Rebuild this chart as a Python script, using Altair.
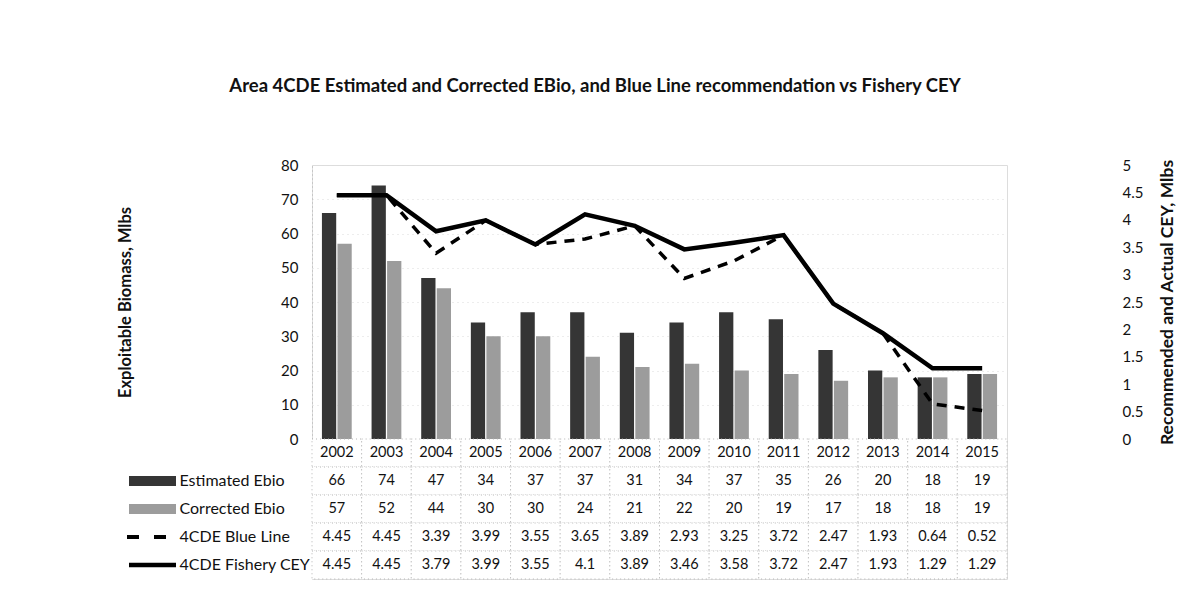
import altair as alt
import pandas as pd

years = ["2002", "2003", "2004", "2005", "2006", "2007", "2008",
         "2009", "2010", "2011", "2012", "2013", "2014", "2015"]
est_ebio = [66, 74, 47, 34, 37, 37, 31, 34, 37, 35, 26, 20, 18, 19]
cor_ebio = [57, 52, 44, 30, 30, 24, 21, 22, 20, 19, 17, 18, 18, 19]
blue_line = [4.45, 4.45, 3.39, 3.99, 3.55, 3.65, 3.89, 2.93, 3.25, 3.72, 2.47, 1.93, 0.64, 0.52]
fishery_cey = [4.45, 4.45, 3.79, 3.99, 3.55, 4.1, 3.89, 3.46, 3.58, 3.72, 2.47, 1.93, 1.29, 1.29]
left_ticks = [0, 10, 20, 30, 40, 50, 60, 70, 80]
right_ticks = [0, 0.5, 1, 1.5, 2, 2.5, 3, 3.5, 4, 4.5, 5]

S_EST = "Estimated Ebio"
S_COR = "Corrected Ebio"
S_BLUE = "4CDE Blue Line"
S_CEY = "4CDE Fishery CEY"
HEADER = "Year"
rows = [HEADER, S_EST, S_COR, S_BLUE, S_CEY]

FONT = "Lato"
W = 695
H = 274
ROW = 28
DARK = "#353535"
LIGHT = "#9c9c9c"

bars_df = pd.DataFrame({
    "year": years * 2,
    "series": [S_EST] * len(years) + [S_COR] * len(years),
    "value": est_ebio + cor_ebio,
})
blue_df = pd.DataFrame({"year": years, "series": S_BLUE, "value": blue_line})
cey_df = pd.DataFrame({"year": years, "series": S_CEY, "value": fishery_cey})

table_rows = []
for i, y in enumerate(years):
    table_rows.append({"year": y, "row": HEADER, "label": y})
    table_rows.append({"year": y, "row": S_EST, "label": str(est_ebio[i])})
    table_rows.append({"year": y, "row": S_COR, "label": str(cor_ebio[i])})
    table_rows.append({"year": y, "row": S_BLUE, "label": str(blue_line[i])})
    table_rows.append({"year": y, "row": S_CEY, "label": str(fishery_cey[i])})
table_df = pd.DataFrame(table_rows)

x_top = alt.X("year:N", sort=years,
              scale=alt.Scale(domain=years, paddingInner=0.4, paddingOuter=0.2),
              axis=None)

bars = alt.Chart(bars_df).mark_bar().encode(
    x=x_top,
    xOffset=alt.XOffset("series:N", sort=[S_EST, S_COR],
                        scale=alt.Scale(domain=[S_EST, S_COR], paddingInner=0.08)),
    y=alt.Y("value:Q",
            scale=alt.Scale(domain=[0, 80], nice=False),
            axis=alt.Axis(values=left_ticks, title="Exploitable Biomass, Mlbs",
                          titleFont=FONT, titleFontSize=16.5, titleFontWeight="bold",
                          titleColor="#111", titlePadding=147,
                          labelFont=FONT, labelFontSize=15, labelColor="#111",
                          labelPadding=14, ticks=False, domain=True,
                          domainColor="#b0b0b0", domainDash=[1, 3],
                          grid=True, gridColor="#dadada", gridDash=[1, 4])),
    color=alt.Color("series:N",
                    scale=alt.Scale(domain=[S_EST, S_COR], range=[DARK, LIGHT]),
                    legend=None),
)

y_right = alt.Y("value:Q",
                scale=alt.Scale(domain=[0, 5], nice=False),
                axis=alt.Axis(orient="right", values=right_ticks, format="~g",
                              title="Recommended and Actual CEY, Mlbs",
                              titleAngle=270, titleBaseline="top",
                              titleFont=FONT, titleFontSize=17.5,
                              titleFontWeight="bold", titleColor="#111",
                              titlePadding=16,
                              labelFont=FONT, labelFontSize=15, labelColor="#111",
                              labelAlign="left", offset=110, labelPadding=5,
                              ticks=False, domain=False, grid=False))

dashed = alt.Chart(blue_df).mark_line(color="black", strokeWidth=3.5,
                                      strokeDash=[10, 8]).encode(
    x=alt.X("year:N", sort=years), y=y_right)
solid = alt.Chart(cey_df).mark_line(color="black", strokeWidth=4.5).encode(
    x=alt.X("year:N", sort=years), y=y_right)

top = alt.layer(bars, alt.layer(dashed, solid)).resolve_scale(
    y="independent").properties(width=W, height=H)

y_rows = alt.Y("row:N", sort=rows,
               scale=alt.Scale(domain=rows, paddingInner=0, paddingOuter=0),
               axis=alt.Axis(title=None, ticks=False, tickSize=0, domain=False,
                             labelAlign="left", labelPadding=133,
                             labelFont=FONT, labelFontSize=16, labelColor="#111",
                             labelExpr="datum.value == 'Year' ? '' : datum.value"))
x_tab = alt.X("year:N", sort=years,
              scale=alt.Scale(domain=years, paddingInner=0, paddingOuter=0),
              axis=None)

cells = alt.Chart(table_df).mark_rect(fill="white", stroke="#b4b4b4",
                                      strokeDash=[1, 3], strokeWidth=1).encode(
    x=x_tab, y=y_rows)
texts = alt.Chart(table_df).mark_text(font=FONT, fontSize=14.5, color="#111").encode(
    x=x_tab, y=y_rows, text="label:N")

sw_bar_df = pd.DataFrame({"row": [S_EST, S_COR], "series": [S_EST, S_COR]})
sw_bar = alt.Chart(sw_bar_df).mark_rule(strokeWidth=10).encode(
    x=alt.value(-183), x2=alt.value(-136), y=y_rows,
    color=alt.Color("series:N",
                    scale=alt.Scale(domain=[S_EST, S_COR], range=[DARK, LIGHT]),
                    legend=None))
sw_dash = alt.Chart(pd.DataFrame({"row": [S_BLUE]})).mark_rule(
    strokeWidth=4, color="black", strokeDash=[12, 15]).encode(
    x=alt.value(-185), x2=alt.value(-146), y=y_rows)
sw_solid = alt.Chart(pd.DataFrame({"row": [S_CEY]})).mark_rule(
    strokeWidth=4.5, color="black").encode(
    x=alt.value(-183), x2=alt.value(-136), y=y_rows)

bottom = alt.layer(cells, texts, sw_bar, sw_dash, sw_solid).properties(
    width=W, height=ROW * len(rows))

chart = alt.vconcat(top, bottom, spacing=0, bounds="flush").properties(
    title=alt.TitleParams(
        "Area 4CDE Estimated and Corrected EBio, and Blue Line recommendation vs Fishery CEY",
        font=FONT, fontSize=18.5, fontWeight="bold", color="#111",
        anchor="middle", dx=-52, offset=62),
    padding={"left": 109, "top": 69, "right": 5, "bottom": 5},
    background="white",
).configure_view(stroke=None).configure(font=FONT)

chart.save("out.html", embed_options={"renderer": "svg", "actions": False})
